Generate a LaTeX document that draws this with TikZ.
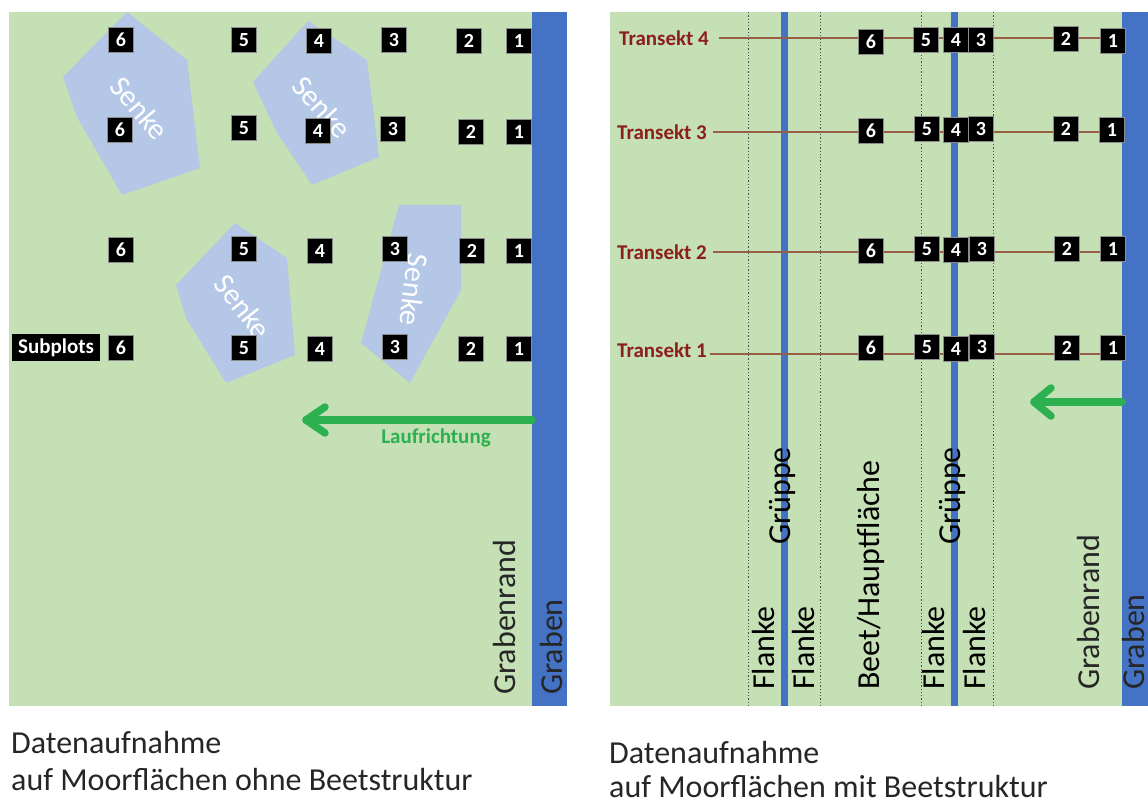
\documentclass[tikz,border=0pt]{standalone}
\usepackage{fontspec}
\setmainfont{Carlito}
\usetikzlibrary{calc}
\pgfdeclarelayer{back}
\pgfdeclarelayer{mid}
\pgfsetlayers{back,mid,main}
\definecolor{moor}{RGB}{197,224,180}
\definecolor{wasser}{RGB}{68,114,196}
\definecolor{senke}{RGB}{180,199,231}
\definecolor{lauf}{RGB}{44,176,80}
\definecolor{trred}{RGB}{140,30,30}
\definecolor{trline}{RGB}{150,95,70}
\begin{document}
\begin{tikzpicture}[x=1pt,y=-1pt,
  sq/.style={fill=black, draw=black!45, line width=0.6pt, minimum size=24.5pt, inner sep=0pt,
     text=white, font=\bfseries\fontsize{20}{20}\selectfont},
  biglab/.style={font=\fontsize{32}{32}\selectfont, inner sep=0pt, rotate=90, anchor=base west},
  senketext/.style={font=\fontsize{30}{30}\selectfont, text=white, inner sep=0pt},
  senkepoly/.style={fill=senke, draw=none},
  caption/.style={font=\fontsize{32}{32}\selectfont, inner sep=0pt, anchor=base west, text=black!85},
  trlab/.style={font=\bfseries\fontsize{21}{21}\selectfont, text=trred, inner sep=0pt, anchor=west},
  trln/.style={draw=trline, line width=1.3pt},
  dotline/.style={draw=black!70, line width=0.9pt, dash pattern=on 1.3pt off 2pt},
  grueppe/.style={draw=wasser, line width=7pt},
  arr/.style={draw=lauf, line width=7.5pt, line cap=round, line join=round}]
\useasboundingbox (0,0) rectangle (1148,799);

% ---------- backgrounds ----------
\begin{pgfonlayer}{back}
\fill[moor] (9,12) rectangle (532,706);
\fill[wasser] (532,12) rectangle (567,706);
\fill[moor] (610,12) rectangle (1122,706);
\fill[wasser] (1122,12) rectangle (1148,706);
% Senken
\fill[senkepoly] (127,12) -- (187,60) -- (200,168) -- (122,195) -- (77,117) -- (63,77) -- cycle;
\fill[senkepoly] (308,21) -- (367,60) -- (379,157) -- (312,185) -- (277,133) -- (253,82) -- cycle;
\fill[senkepoly] (235,223) -- (287,258) -- (295,355) -- (226,383) -- (186,318) -- (176,285) -- cycle;
\fill[senkepoly] (399,205) -- (461,205) -- (461,290) -- (410,383) -- (361,343) -- cycle;
% Grueppen and borders of flanks
\draw[grueppe] (784.5,12) -- (784.5,706);
\draw[grueppe] (954.5,12) -- (954.5,706);
\draw[dotline] (748,12) -- (748,706);
\draw[dotline] (820,12) -- (820,706);
\draw[dotline] (921,12) -- (921,706);
\draw[dotline] (993,12) -- (993,706);
\end{pgfonlayer}

% ---------- Senke labels ----------
\node[senketext, rotate=-50] (s1) at (140,108) {Senke};
\node[senketext, rotate=-48] (s2) at (322,107) {Senke};
\node[senketext, rotate=-52] (s3) at (243,307) {Senke};
\node[senketext, rotate=-97] (s4) at (414,290) {Senke};

% ---------- left subplots ----------
\node[sq] (a6) at (121,40) {6};
\node[sq] (a5) at (244,40) {5};
\node[sq] (a4) at (319,41) {4};
\node[sq] (a3) at (394,40) {3};
\node[sq] (a2) at (469,41) {2};
\node[sq] (a1) at (519,41) {1};
\node[sq] (b6) at (120,130) {6};
\node[sq] (b5) at (244,128) {5};
\node[sq] (b4) at (318,131) {4};
\node[sq] (b3) at (393,129) {3};
\node[sq] (b2) at (471,132) {2};
\node[sq] (b1) at (519,132) {1};
\node[sq] (c6) at (121,250) {6};
\node[sq] (c5) at (244,249) {5};
\node[sq] (c4) at (320,251) {4};
\node[sq] (c3) at (395,249) {3};
\node[sq] (c2) at (472,251) {2};
\node[sq] (c1) at (519,251) {1};
\node[sq] (d6) at (121,348) {6};
\node[sq] (d5) at (244,348) {5};
\node[sq] (d4) at (320,349) {4};
\node[sq] (d3) at (395,347) {3};
\node[sq] (d2) at (471,349) {2};
\node[sq] (d1) at (519,349) {1};
\node[fill=black, text=white, font=\bfseries\fontsize{21}{21}\selectfont, minimum width=88pt,
      minimum height=27pt, inner sep=0pt] (subpl) at (56,348) {Subplots};

% Laufrichtung left
\coordinate (la0) at (532,420);
\coordinate (la1) at (306,420);
\draw[arr] (la0) -- (la1);
\draw[arr] ($(la1)+(19,-13)$) -- (la1) -- ($(la1)+(19,13)$);
\node[font=\bfseries\fontsize{21}{21}\selectfont, text=lauf, inner sep=0pt] (lauftxt) at (436,438) {Laufrichtung};

% left vertical labels
\node[biglab, text=black!85] (grl) at (515,695) {Grabenrand};
\node[biglab, text=black!85] (gl) at (562,695) {Graben};

% ---------- right transects ----------
\node[trlab] (t4) at (619,38) {Transekt 4};
\node[trlab] (t3) at (617,132) {Transekt 3};
\node[trlab] (t2) at (617,252) {Transekt 2};
\node[trlab] (t1) at (617,350) {Transekt 1};

\node[sq] (r46) at (871,42) {6};
\node[sq] (r45) at (926,40) {5};
\node[sq] (r44) at (956,40) {4};
\node[sq] (r43) at (981,40) {3};
\node[sq] (r42) at (1066,39) {2};
\node[sq] (r41) at (1113,41) {1};
\node[sq] (r36) at (871,131) {6};
\node[sq] (r35) at (927,129) {5};
\node[sq] (r34) at (956,130) {4};
\node[sq] (r33) at (981,129) {3};
\node[sq] (r32) at (1066,129) {2};
\node[sq] (r31) at (1112,130) {1};
\node[sq] (r26) at (871,251) {6};
\node[sq] (r25) at (927,249) {5};
\node[sq] (r24) at (956,250) {4};
\node[sq] (r23) at (982,249) {3};
\node[sq] (r22) at (1067,249) {2};
\node[sq] (r21) at (1113,249) {1};
\node[sq] (r16) at (871,348) {6};
\node[sq] (r15) at (927,347) {5};
\node[sq] (r14) at (956,349) {4};
\node[sq] (r13) at (982,347) {3};
\node[sq] (r12) at (1067,348) {2};
\node[sq] (r11) at (1113,348) {1};

\begin{pgfonlayer}{mid}
\draw[trln] ([xshift=10pt]t4.east) -- (t4.east -| r41.center);
\draw[trln] ([xshift=6pt]t3.east) -- (t3.east -| r31.center);
\draw[trln] ([xshift=6pt]t2.east) -- (t2.east -| r21.center);
\draw[trln] ([xshift=3pt,yshift=-4pt]t1.east) -- ([yshift=-4pt]t1.east -| r11.center);
\end{pgfonlayer}

% Laufrichtung right
\coordinate (ra0) at (1122,402);
\coordinate (ra1) at (1034,402);
\draw[arr] (ra0) -- (ra1);
\draw[arr] ($(ra1)+(17,-14)$) -- (ra1) -- ($(ra1)+(17,14)$);

% right vertical labels
\node[biglab] (gru1) at (790,545) {Grüppe};
\node[biglab] (gru2) at (960,545) {Grüppe};
\node[biglab] (fl1) at (774,690) {Flanke};
\node[biglab] (fl2) at (814,690) {Flanke};
\node[biglab] (beet) at (879,690) {Beet/Hauptfläche};
\node[biglab] (fl3) at (944,690) {Flanke};
\node[biglab] (fl4) at (985,690) {Flanke};
\node[biglab, text=black!85] (grr) at (1099,690) {Grabenrand};
\node[biglab, text=black!85] (gr) at (1144,690) {Graben};

% ---------- captions ----------
\node[caption] (cap1a) at (11,753) {Datenaufnahme};
\node[caption] (cap1b) at (11,790) {auf Moorflächen ohne Beetstruktur};
\node[caption] (cap2a) at (609,763) {Datenaufnahme};
\node[caption] (cap2b) at (609,797) {auf Moorflächen mit Beetstruktur};
\end{tikzpicture}
\end{document}
